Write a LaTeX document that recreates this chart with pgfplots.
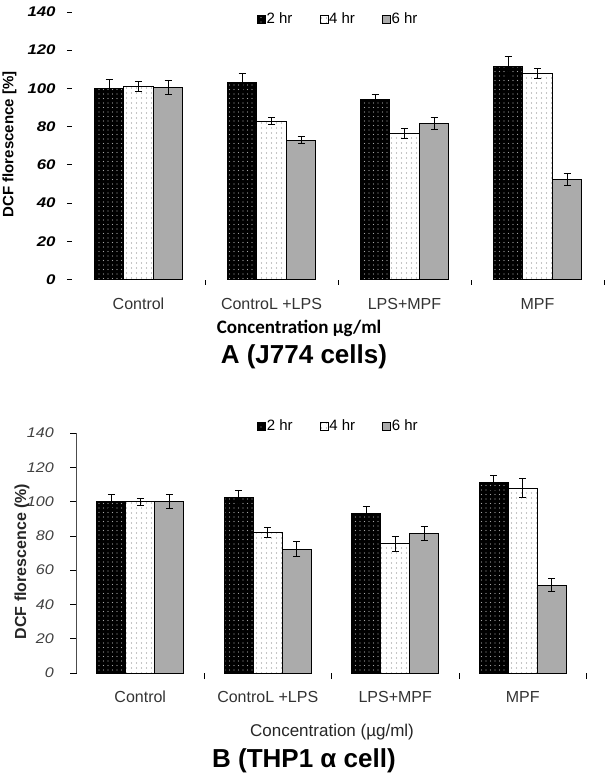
\documentclass[border=0pt]{standalone}
\usepackage{pgfplots}
\pgfplotsset{compat=1.18}
\usepackage{fontspec}
\setmainfont{Liberation Sans}
\newfontfamily\carlito{Carlito}
\usetikzlibrary{patterns.meta}

\pgfplotsset{
  blackbar/.style={fill=black, draw=black, line width=0.8pt,
    postaction={pattern={Dots[distance=4.5pt, radius=0.6pt]}, pattern color=black!35}},
  dotbar/.style={fill=white, draw=black, line width=0.8pt,
    postaction={pattern={Dots[distance=5pt, radius=0.6pt, xshift=1.5pt]}, pattern color=black!45}},
  graybar/.style={fill=black!33, draw=black, line width=0.8pt},
  common/.style={
    scale only axis,
    ybar=0pt,
    xmin=-0.5, xmax=3.5,
    ymin=0, ymax=140,
    ytick={0,20,...,140},
    xtick={0.5,1.5,2.5,3.5},
    xticklabels={},
    extra x ticks={0,1,2,3},
    extra x tick labels={Control, ControL +LPS, LPS+MPF, MPF},
    extra x tick style={major tick length=0pt, tick style={draw=none}},
    tick align=outside,
    major tick length=5pt,
    tick style={black, line width=0.7pt},
    axis lines*=left,
    x axis line style={draw=none},
    /pgf/number format/assume math mode=true,
    error bars/y dir=both,
    error bars/y explicit,
    error bars/error bar style={black, line width=1pt},
    error bars/error mark options={rotate=90, mark size=3.5pt, line width=1pt, black},
    legend columns=3,
    legend image code/.code={\draw[#1, line width=0.6pt] (0pt,-4pt) rectangle (8pt,4pt);},
    legend style={draw=none, fill=none, anchor=center,
      /tikz/every even column/.append style={column sep=26pt},
      nodes={inner sep=1pt}},
    xticklabel style={anchor=center, yshift=-24pt, text=black!80, font=\fontsize{16}{18}\selectfont},
  },
}

\begin{document}
\begin{tikzpicture}
\useasboundingbox (0pt,0pt) rectangle (606pt,-778pt);

% ---------------- Panel A ----------------
\begin{axis}[common,
  at={(72pt,-279.5pt)}, anchor=south west,
  width=532pt, height=267.6pt,
  bar width=29.5pt,
  y axis line style={draw=none},
  yticklabel style={font=\fontsize{14}{16}\selectfont\bfseries\itshape, xscale=1.2, xshift=-6pt},
  ylabel={DCF florescence [\%]},
  ylabel style={at={(axis description cs:-0.1175,0.5045)}, anchor=center, font=\fontsize{15}{17}\selectfont\bfseries},
  xlabel={Concentration µg/ml},
  xlabel style={at={(axis description cs:0.427,-0.181)}, anchor=center, font=\carlito\fontsize{19}{21}\selectfont\bfseries},
  title={A (J774 cells)},
  title style={at={(axis description cs:0.436,-0.31)}, anchor=center, font=\fontsize{26}{28}\selectfont\bfseries},
  legend style={at={(0.4995,0.973)}, font=\fontsize{15}{17}\selectfont},
]
\addplot[blackbar] coordinates {(0,100) +- (0,4.5) (1,103) +- (0,5) (2,94.3) +- (0,2.5) (3,111.4) +- (0,5.5)};
\addplot[dotbar] coordinates {(0,101) +- (0,2.5) (1,82.9) +- (0,2) (2,76.5) +- (0,2.5) (3,107.9) +- (0,2.5)};
\addplot[graybar] coordinates {(0,100.4) +- (0,3.5) (1,72.8) +- (0,1.8) (2,81.7) +- (0,3.3) (3,52.2) +- (0,3)};
\legend{2 hr, 4 hr, 6 hr}
\end{axis}

% ---------------- Panel B ----------------
\begin{axis}[common,
  at={(76.5pt,-673pt)}, anchor=south west,
  width=510pt, height=240pt,
  bar width=29pt,
  major tick length=6pt,
  y axis line style={black!70, line width=0.8pt},
  yticklabel style={font=\fontsize{14}{16}\selectfont\itshape, text=black!75, xscale=1.15, xshift=-11pt},
  ylabel={DCF florescence (\%)},
  ylabel style={at={(axis description cs:-0.1069,0.4646)}, anchor=center, font=\fontsize{16}{18}\selectfont\bfseries, text=black!85},
  xlabel={Concentration (µg/ml)},
  xlabel style={at={(axis description cs:0.501,-0.245)}, anchor=center, font=\fontsize{17}{19}\selectfont, text=black!85},
  title={B (THP1 α cell)},
  title style={at={(axis description cs:0.446,-0.39)}, anchor=center, font=\fontsize{26}{28}\selectfont\bfseries},
  legend style={at={(0.5127,1.030)}, font=\fontsize{15}{17}\selectfont},
]
\addplot[blackbar] coordinates {(0,100) +- (0,4) (1,102.5) +- (0,4) (2,93.2) +- (0,4) (3,111) +- (0,4)};
\addplot[dotbar] coordinates {(0,100) +- (0,2) (1,82.1) +- (0,3) (2,75.4) +- (0,4.5) (3,107.8) +- (0,5.5)};
\addplot[graybar] coordinates {(0,100) +- (0,4) (1,72.3) +- (0,4.3) (2,81.5) +- (0,4) (3,51.3) +- (0,4)};
\legend{2 hr, 4 hr, 6 hr}
\end{axis}
\end{tikzpicture}
\end{document}
